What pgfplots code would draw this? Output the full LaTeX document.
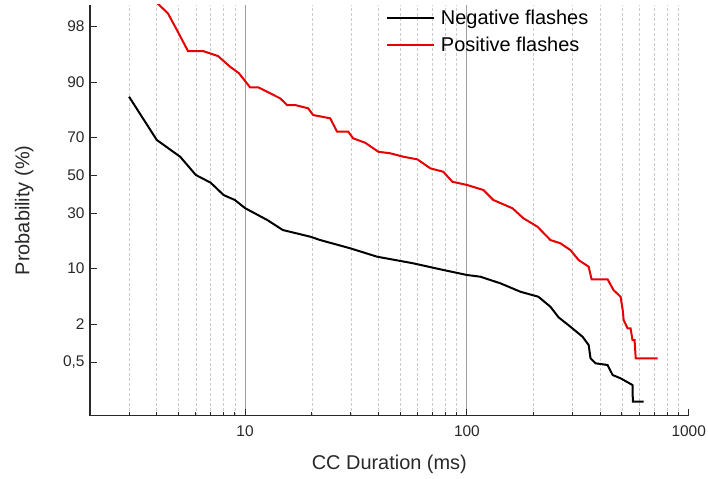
\documentclass[border=0pt]{standalone}
\usepackage{pgfplots}
\pgfplotsset{compat=1.18}
\usepackage{fontspec}
\setmainfont{Liberation Sans}
\definecolor{axgray}{RGB}{40,40,40}
\definecolor{pred}{RGB}{230,0,0}
\begin{document}
\begin{tikzpicture}
\begin{axis}[
  scale only axis,
  width=598.7bp, height=410.7bp,
  xmode=log,
  xmin=2, xmax=1000,
  ymin=-3.313, ymax=2.352,
  axis x line*=bottom, axis y line*=left,
  axis line style={axgray, line width=1.3bp},
  tick align=inside,
  major tick length=7bp, minor tick length=3.5bp,
  tick style={axgray, line width=1bp},
  xtick={10,100,1000}, xticklabels={10,100,1000},
  minor xtick={3,4,5,6,7,8,9,20,30,40,50,60,70,80,90,200,300,400,500,600,700,800,900},
  xminorgrids=true,
  minor grid style={gray!40, dash pattern=on 3bp off 2bp, line width=0.6bp},
  extra x ticks={10,100}, extra x tick labels={},
  extra x tick style={xmajorgrids=true, major grid style={gray!75, line width=0.8bp}},
  ytick={-2.5758,-2.0537,-1.2816,-0.5244,0,0.5244,1.2816,2.0537},
  yticklabels={{0,5},2,10,30,50,70,90,98},
  ytick pos=left, xtick pos=bottom,
  /pgf/number format/assume math mode=true,
  tick label style={font=\fontsize{15.5}{18}\selectfont, text=axgray},
  xticklabel style={yshift=-6bp},
  yticklabel style={xshift=-2bp},
  label style={font=\fontsize{20}{24}\selectfont, text=axgray},
  xlabel={CC Duration (ms)},
  ylabel={Probability (\%)},
  every axis x label/.append style={at={(axis description cs:0.5,-0.118)}, anchor=center},
  every axis y label/.append style={at={(axis description cs:-0.110,0.5)}, anchor=center},
  legend style={draw=none, fill=none, at={(axis description cs:0.492,0.995)}, anchor=north west,
    font=\fontsize{20}{24}\selectfont, text=black, row sep=7bp, column sep=4bp, inner sep=1bp},
  legend cell align=left,
  legend image code/.code={\draw[#1, line width=2.2bp] (0bp,0bp) -- (47bp,0bp);},
]
\coordinate (O) at (rel axis cs:0,0);
\addplot[black, line width=2bp] coordinates {
(3.0,1.087) (4.0,0.490) (5.1,0.259) (6.0,0.007) (7.0,-0.099) (8.0,-0.269) (9.0,-0.338)
(10.0,-0.45) (12.6,-0.614) (14.8,-0.752) (19.7,-0.844) (21.8,-0.890) (29.8,-1.004)
(39.4,-1.120) (57.3,-1.211) (75.9,-1.294) (100,-1.372) (115,-1.396) (141.6,-1.487)
(174.3,-1.603) (210,-1.672) (238,-1.810) (259,-1.956) (293,-2.086) (332,-2.223)
(354,-2.338) (361,-2.521) (380,-2.590) (431,-2.614) (454,-2.752) (493,-2.797)
(558,-2.890) (560,-3.120) (626,-3.120)
};
\addlegendentry{Negative flashes}
\addplot[pred, line width=2bp] coordinates {
(3.95,2.40) (4.49,2.237) (4.93,2.007) (5.53,1.717) (6.46,1.717) (7.55,1.648) (8.56,1.501)
(9.39,1.410) (10.53,1.217) (11.45,1.217) (14.39,1.065) (15.48,0.972) (16.82,0.972)
(19.25,0.927) (20.28,0.834) (24.2,0.789) (26.0,0.604) (29.2,0.604) (30.7,0.513)
(34.8,0.452) (39.9,0.328) (45.2,0.306) (51.7,0.259) (59.8,0.223) (68.4,0.099)
(78.3,0.052) (86.0,-0.086) (100.3,-0.131) (118.7,-0.200) (131.7,-0.338) (160.5,-0.452)
(179.9,-0.590) (208,-0.706) (238,-0.890) (264,-0.935) (293,-1.028) (319,-1.166)
(354,-1.258) (365,-1.432) (431,-1.432) (458,-1.579) (493,-1.672) (504,-1.855)
(509,-1.993) (530,-2.108) (547,-2.108) (558,-2.269) (570,-2.269) (577,-2.521) (724,-2.521)
};
\addlegendentry{Positive flashes}
\end{axis}
\pgfresetboundingbox
\path[use as bounding box] ([shift={(-90bp,-63.3bp)}]O) rectangle ++(708bp,479bp);
\end{tikzpicture}
\end{document}
